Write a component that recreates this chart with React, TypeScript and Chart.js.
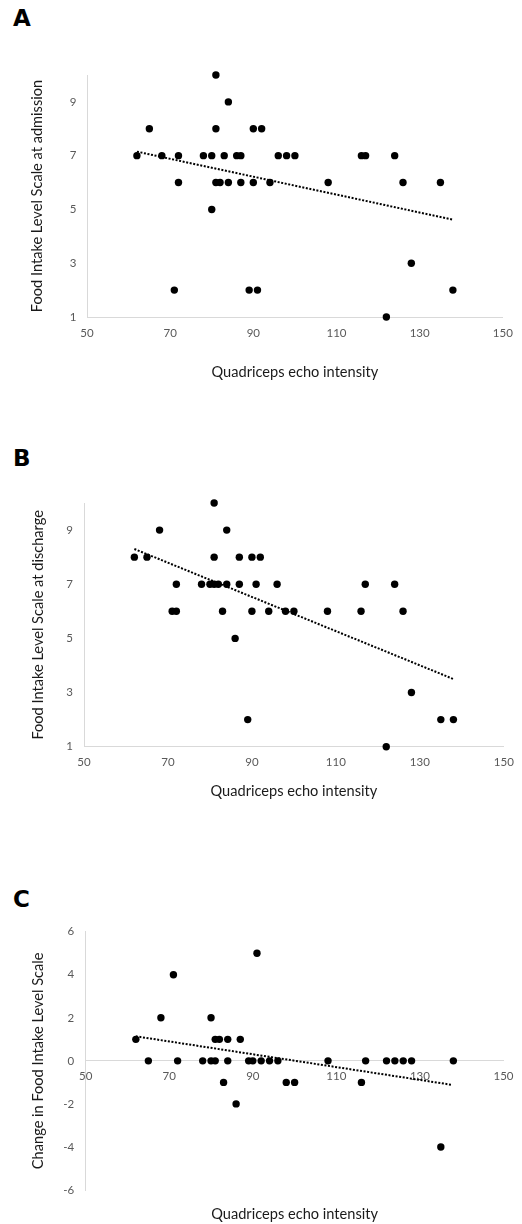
import React, { useEffect, useRef } from "react";
import { Chart, registerables } from "chart.js";

Chart.register(...registerables);

// ---------- data ----------
const xTickValues = [50, 70, 90, 110, 130, 150];
const yTickValuesAB = [1, 3, 5, 7, 9];
const yTickValuesC = [-6, -4, -2, 0, 2, 4, 6];

const echoA = [62, 68, 72, 78, 80, 83, 86, 87, 96, 98, 100, 116, 117, 124, 65, 81, 90, 92, 81, 84, 72, 81, 82, 84, 87, 90, 94, 108, 126, 135, 80, 128, 71, 89, 91, 138, 122];
const fils_admission = [7, 7, 7, 7, 7, 7, 7, 7, 7, 7, 7, 7, 7, 7, 8, 8, 8, 8, 10, 9, 6, 6, 6, 6, 6, 6, 6, 6, 6, 6, 5, 3, 2, 2, 2, 2, 1];

const echoB = [72, 78, 80, 81, 82, 84, 87, 91, 96, 117, 124, 62, 65, 81, 87, 90, 92, 68, 84, 81, 71, 72, 83, 90, 94, 98, 100, 108, 116, 126, 86, 128, 89, 135, 138, 122];
const fils_discharge = [7, 7, 7, 7, 7, 7, 7, 7, 7, 7, 7, 8, 8, 8, 8, 8, 8, 9, 9, 10, 6, 6, 6, 6, 6, 6, 6, 6, 6, 6, 5, 3, 2, 2, 2, 1];

const echoC = [91, 71, 68, 80, 62, 81, 82, 84, 87, 65, 72, 78, 80, 81, 84, 89, 90, 92, 94, 96, 108, 117, 122, 124, 126, 128, 138, 83, 98, 100, 116, 86, 135];
const fils_change = [5, 4, 2, 2, 1, 1, 1, 1, 1, 0, 0, 0, 0, 0, 0, 0, 0, 0, 0, 0, 0, 0, 0, 0, 0, 0, 0, -1, -1, -1, -1, -2, -4];

// trend line end points
const trendAX = [62, 138];
const trendAY = [7.15, 4.62];
const trendBX = [62, 138];
const trendBY = [8.3, 3.5];
const trendCX = [62, 137.5];
const trendCY = [1.14, -1.11];

// ---------- style ----------
const FONT = "Lato, 'Open Sans', sans-serif";
const AXIS_COLOR = "#d9d9d9";
const TICK_COLOR = "#595959";
const TITLE_COLOR = "#1a1a1a";

type PanelSpec = {
  top: number;
  height: number;
  padTop: number;
  padRight: number;
  padBottom: number;
  yWidth: number;
  xHeight: number;
  yTitlePad: number;
  yTickPad: number;
  xTickPad: number;
  yMin: number;
  yMax: number;
  yTicks: number[];
  yTitle: string;
  xs: number[];
  ys: number[];
  tx: number[];
  ty: number[];
  crossAtZero: boolean;
};

const pts = (xs: number[], ys: number[]) => xs.map((x, i) => ({ x, y: ys[i] }));

function buildConfig(p: PanelSpec): any {
  const tickFont = { family: FONT, size: 11.5 };
  const titleFont = { family: FONT, size: 14.6 };
  const xTitle = {
    display: true,
    text: "Quadriceps echo intensity",
    font: titleFont,
    color: TITLE_COLOR,
    padding: { top: 0, bottom: 0 },
  };
  const scales: any = {
    x: {
      type: "linear",
      min: 50,
      max: 150,
      position: p.crossAtZero ? { y: 0 } : "bottom",
      afterBuildTicks: (s: any) => {
        s.ticks = xTickValues.map((v) => ({ value: v }));
      },
      ticks: { color: TICK_COLOR, font: tickFont, padding: p.xTickPad, callback: (v: any) => String(v), maxRotation: 0 },
      grid: { display: false, drawTicks: false },
      border: { display: true, color: AXIS_COLOR, width: 1 },
      title: p.crossAtZero ? { display: false } : xTitle,
      afterFit: p.crossAtZero ? undefined : (s: any) => { s.height = p.xHeight; },
    },
    y: {
      type: "linear",
      min: p.yMin,
      max: p.yMax,
      position: "left",
      afterBuildTicks: (s: any) => {
        s.ticks = p.yTicks.map((v) => ({ value: v }));
      },
      ticks: { color: TICK_COLOR, font: tickFont, padding: p.yTickPad, callback: (v: any) => String(v) },
      grid: { display: false, drawTicks: false },
      border: { display: true, color: AXIS_COLOR, width: 1 },
      title: {
        display: true,
        text: p.yTitle,
        font: titleFont,
        color: TITLE_COLOR,
        padding: { top: p.yTitlePad, bottom: 0 },
      },
      afterFit: (s: any) => { s.width = p.yWidth; },
    },
  };
  if (p.crossAtZero) {
    scales.x2 = {
      type: "linear",
      min: 50,
      max: 150,
      position: "bottom",
      ticks: { display: false },
      grid: { display: false, drawTicks: false },
      border: { display: false },
      title: xTitle,
      afterFit: (s: any) => { s.height = p.xHeight; },
    };
  }
  return {
    type: "scatter",
    data: {
      datasets: [
        {
          data: pts(p.xs, p.ys),
          pointRadius: 3.7,
          pointHoverRadius: 3.7,
          pointBackgroundColor: "#000",
          pointBorderWidth: 0,
          showLine: false,
          clip: false,
          order: 2,
        },
        {
          data: pts(p.tx, p.ty),
          showLine: true,
          pointRadius: 0,
          borderColor: "#000",
          borderWidth: 2,
          borderDash: [2, 1.6],
          fill: false,
          clip: false,
          order: 1,
        },
      ],
    },
    options: {
      responsive: false,
      animation: false,
      events: [],
      layout: { padding: { top: p.padTop, right: p.padRight, bottom: p.padBottom, left: 0 } },
      plugins: { legend: { display: false }, tooltip: { enabled: false }, title: { display: false } },
      scales,
    },
  };
}

const panels: { letter: string; letterTop: number; spec: PanelSpec }[] = [
  {
    letter: "A",
    letterTop: 6.5,
    spec: {
      top: 40, height: 350, padTop: 35, padRight: 10, padBottom: 8.6,
      yWidth: 87, xHeight: 64.4, yTitlePad: 28.3, yTickPad: 10.5, xTickPad: 9.2,
      yMin: 1, yMax: 10, yTicks: yTickValuesAB,
      yTitle: "Food Intake Level Scale at admission",
      xs: echoA, ys: fils_admission, tx: trendAX, ty: trendAY, crossAtZero: false,
    },
  },
  {
    letter: "B",
    letterTop: 446.7,
    spec: {
      top: 400, height: 410, padTop: 103, padRight: 15, padBottom: 9.6,
      yWidth: 84, xHeight: 53.7, yTitlePad: 29.3, yTickPad: 11, xTickPad: 8.2,
      yMin: 1, yMax: 10, yTicks: yTickValuesAB,
      yTitle: "Food Intake Level Scale at discharge",
      xs: echoB, ys: fils_discharge, tx: trendBX, ty: trendBY, crossAtZero: false,
    },
  },
  {
    letter: "C",
    letterTop: 887.8,
    spec: {
      top: 900, height: 324, padTop: 31.7, padRight: 10, padBottom: 0.6,
      yWidth: 85.7, xHeight: 33.4, yTitlePad: 29.3, yTickPad: 11.5, xTickPad: 8.5,
      yMin: -6, yMax: 6, yTicks: yTickValuesC,
      yTitle: "Change in Food Intake Level Scale",
      xs: echoC, ys: fils_change, tx: trendCX, ty: trendCY, crossAtZero: true,
    },
  },
];

function Panel({ spec }: { spec: PanelSpec }) {
  const ref = useRef<HTMLCanvasElement | null>(null);
  useEffect(() => {
    if (!ref.current) return;
    const chart = new Chart(ref.current, buildConfig(spec));
    return () => chart.destroy();
  }, [spec]);
  return (
    <canvas
      ref={ref}
      width={522}
      height={spec.height}
      style={{ position: "absolute", left: 0, top: spec.top, width: 522, height: spec.height }}
    />
  );
}

export default function App() {
  return (
    <div
      style={{
        position: "absolute",
        left: 0,
        top: 0,
        width: 522,
        height: 1224,
        overflow: "hidden",
        background: "#fff",
      }}
    >
      {panels.map((p) => (
        <React.Fragment key={p.letter}>
          <div
            style={{
              position: "absolute",
              left: 13,
              top: p.letterTop,
              fontFamily: "'DejaVu Sans', sans-serif",
              fontWeight: 700,
              fontSize: 23,
              lineHeight: "23px",
              color: "#000",
            }}
          >
            {p.letter}
          </div>
          <Panel spec={p.spec} />
        </React.Fragment>
      ))}
    </div>
  );
}
